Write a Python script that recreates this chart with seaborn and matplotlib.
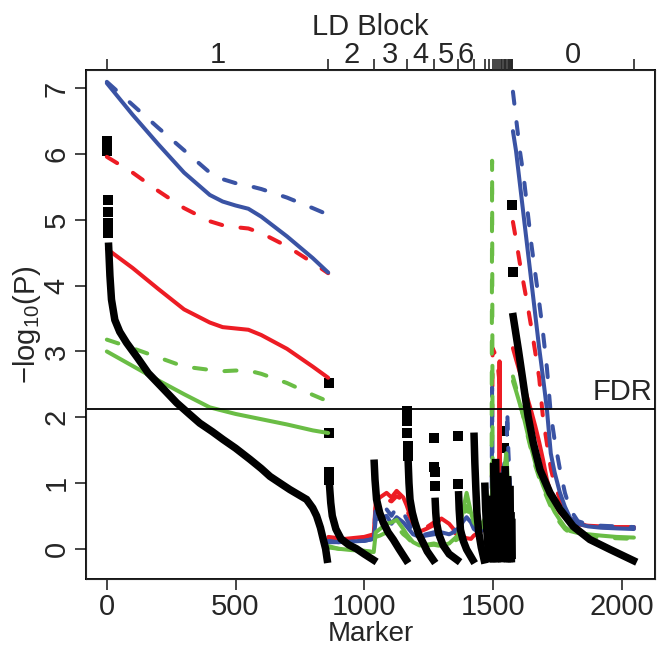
import pandas as pd
import seaborn as sns
import matplotlib.pyplot as plt
from matplotlib.transforms import blended_transform_factory

# ---- LD blocks (top axis) ----
block_edges = [0, 861, 1038, 1165, 1271, 1364, 1426, 1468, 1485, 1502, 1510, 1517,
               1524, 1530, 1536, 1542, 1547, 1552, 1557, 1562, 1566, 1570, 1573, 1576, 2048]
block_labels = ["1", "2", "3", "4", "5", "6", "0"]
block_label_pos = [430, 950, 1101, 1218, 1317, 1395, 1812]

fdr = 2.13

# ---- coloured curves: three segments (block 1, blocks 2..small, block 0) ----
M1 = [0, 100, 200, 300, 400, 450, 500, 550, 600, 700, 800, 860]
bs1 = [7.08, 6.60, 6.15, 5.72, 5.38, 5.28, 5.22, 5.17, 5.05, 4.75, 4.42, 4.20]
bd1 = [7.10, 6.75, 6.40, 6.06, 5.72, 5.62, 5.56, 5.52, 5.47, 5.34, 5.18, 5.08]
rd1 = [5.96, 5.72, 5.44, 5.18, 4.98, 4.92, 4.89, 4.87, 4.80, 4.60, 4.35, 4.19]
rs1 = [4.56, 4.27, 3.95, 3.64, 3.44, 3.37, 3.35, 3.33, 3.25, 3.04, 2.77, 2.60]
gd1 = [3.18, 3.05, 2.91, 2.77, 2.72, 2.70, 2.71, 2.71, 2.66, 2.52, 2.34, 2.24]
gs1 = [3.00, 2.78, 2.56, 2.35, 2.15, 2.10, 2.05, 2.01, 1.97, 1.89, 1.80, 1.76]

M2 = [861, 900, 950, 1000, 1037, 1045, 1061, 1087, 1106, 1126, 1152, 1165, 1190, 1215,
      1240, 1271, 1300, 1330, 1364, 1385, 1398, 1415, 1426, 1445, 1468, 1485, 1495, 1497,
      1499, 1510, 1520, 1524, 1526, 1528, 1535, 1545, 1552, 1556, 1560, 1566, 1574]
rs2 = [0.15, 0.14, 0.16, 0.18, 0.22, 0.72, 0.78, 0.85, 0.78, 0.88, 0.78, 0.66, 0.38, 0.26,
       0.30, 0.36, 0.46, 0.38, 0.22, 0.18, 0.16, 0.15, 0.20, 0.25, 0.30, 0.35, 0.40, 0.45,
       0.50, 0.50, 0.45, 0.50, 2.85, 0.60, 0.45, 0.50, 0.60, 0.55, 0.50, 0.45, 0.40]
rd2 = [0.18, 0.16, 0.15, 0.17, 0.20, 0.65, 0.70, 0.75, 0.72, 0.80, 0.74, 0.60, 0.35, 0.28,
       0.32, 0.40, 0.42, 0.33, 0.20, 0.20, 0.18, 0.20, 0.25, 0.28, 0.30, 0.30, 0.35, 1.50,
       3.05, 2.95, 2.75, 2.60, 2.30, 1.20, 0.60, 0.70, 0.90, 1.00, 0.90, 0.70, 0.50]
bd2 = [0.10, 0.10, 0.12, 0.12, 0.15, 0.65, 0.68, 0.60, 0.50, 0.63, 0.55, 0.45, 0.25, 0.20,
       0.22, 0.25, 0.28, 0.25, 0.30, 0.45, 0.50, 0.45, 0.35, 0.30, 0.35, 0.30, 0.40, 2.45,
       0.80, 0.60, 0.55, 0.60, 0.60, 0.65, 0.70, 0.90, 1.00, 2.10, 1.50, 1.00, 0.60]
bs2 = [0.12, 0.10, 0.11, 0.12, 0.15, 0.45, 0.46, 0.50, 0.38, 0.48, 0.40, 0.34, 0.22, 0.18,
       0.20, 0.22, 0.25, 0.22, 0.28, 0.42, 0.48, 0.40, 0.30, 0.25, 0.30, 0.35, 0.40, 0.45,
       0.50, 0.70, 0.90, 1.00, 1.05, 1.00, 1.10, 1.30, 1.10, 0.90, 0.80, 0.60, 0.45]
gs2 = [0.04, 0.00, -0.02, -0.03, -0.05, 0.25, 0.30, 0.38, 0.40, 0.44, 0.30, 0.22, 0.10, 0.05,
       0.06, 0.08, 0.05, 0.08, 0.20, 0.60, 0.85, 0.55, 0.40, 0.30, 0.45, 0.50, 0.70, 0.90,
       1.10, 1.30, 1.00, 0.80, 0.80, 0.80, 0.90, 1.20, 1.45, 1.20, 0.90, 0.60, 0.40]
gd2 = [0.02, 0.00, -0.03, -0.04, -0.05, 0.18, 0.20, 0.25, 0.30, 0.34, 0.22, 0.18, 0.08, 0.04,
       0.05, 0.06, 0.04, 0.06, 0.15, 0.45, 0.65, 0.45, 0.35, 0.30, 0.35, 0.40, 0.50, 5.90,
       0.90, 0.80, 0.70, 0.60, 0.60, 0.65, 0.70, 0.90, 1.00, 0.90, 0.80, 0.60, 0.40]

M3 = [1578, 1590, 1605, 1620, 1635, 1650, 1665, 1680, 1695, 1710, 1725, 1740, 1760, 1780,
      1800, 1830, 1870, 1920, 1980, 2048]
bd3 = [6.95, 6.55, 6.05, 5.65, 5.13, 4.62, 4.18, 3.75, 3.28, 2.75, 2.05, 1.65, 1.22, 0.85,
       0.60, 0.42, 0.37, 0.35, 0.34, 0.33]
bs3 = [6.35, 6.05, 5.55, 5.05, 4.55, 4.05, 3.55, 3.05, 2.60, 2.12, 1.45, 1.16, 0.86, 0.64,
       0.47, 0.38, 0.34, 0.32, 0.31, 0.30]
rd3 = [4.97, 4.70, 4.34, 4.02, 3.70, 3.35, 2.98, 2.60, 1.98, 1.60, 1.22, 0.98, 0.76, 0.60,
       0.50, 0.39, 0.35, 0.33, 0.32, 0.31]
rs3 = [3.05, 2.88, 2.68, 2.48, 2.28, 2.08, 1.86, 1.62, 1.35, 1.05, 0.85, 0.68, 0.55, 0.47,
       0.42, 0.37, 0.35, 0.34, 0.33, 0.33]
gs3 = [2.55, 2.40, 2.20, 2.00, 1.75, 1.52, 1.30, 1.13, 0.96, 0.82, 0.68, 0.56, 0.44, 0.33,
       0.27, 0.24, 0.22, 0.20, 0.18, 0.17]
gd3 = [2.62, 2.45, 2.22, 1.98, 1.72, 1.48, 1.26, 1.08, 0.92, 0.78, 0.64, 0.52, 0.40, 0.30,
       0.24, 0.20, 0.18, 0.17, 0.16, 0.15]

# ---- black markers: leading isolated points of each block ----
sq_m = [1, 2, 3, 4, 5, 6, 862, 863, 864, 865, 1166, 1167, 1168, 1169, 1170,
        1272, 1273, 1274, 1275, 1365, 1366, 1543, 1544, 1576, 1577]
sq_v = [6.20, 6.05, 5.30, 5.12, 4.95, 4.80, 2.52, 1.76, 1.16, 1.05, 2.10, 1.95, 1.76, 1.56, 1.41,
        1.68, 1.25, 1.16, 0.95, 1.72, 0.98, 1.79, 1.53, 5.22, 4.21]

# ---- black markers: dense sorted run of each block ----
blk_m = [7, 12, 18, 31, 50, 77, 120, 161, 215, 271, 320, 361, 410, 452, 500, 556, 600, 634,
         680, 711, 750, 776, 800, 815, 830, 841, 850, 856,
         866, 870, 876, 890, 910, 940, 970, 1000, 1036,
         1039, 1042, 1048, 1060, 1074, 1093, 1113, 1135, 1163,
         1171, 1174, 1178, 1187, 1197, 1212, 1229, 1245, 1268,
         1276, 1278, 1281, 1290, 1307, 1330, 1361,
         1367, 1369, 1374, 1385, 1398, 1422,
         1427, 1430, 1434, 1438, 1445, 1455, 1466,
         1469, 1472, 1476, 1484,
         1486, 1489, 1494, 1501,
         1503, 1505, 1507, 1509,
         1511, 1513, 1515, 1516,
         1518, 1520, 1523,
         1525, 1527, 1529,
         1531, 1535,
         1537, 1539, 1541,
         1545, 1546,
         1548, 1551,
         1553, 1556,
         1558, 1561,
         1563, 1565,
         1567, 1569,
         1571, 1572,
         1574, 1575,
         1579, 1599, 1618, 1637, 1657, 1683, 1722, 1761, 1812, 1877, 1955, 2046]
blk_v = [4.60, 4.15, 3.79, 3.48, 3.30, 3.13, 2.90, 2.67, 2.45, 2.22, 2.05, 1.91, 1.78, 1.66,
         1.53, 1.36, 1.22, 1.10, 0.98, 0.90, 0.81, 0.75, 0.62, 0.50, 0.32, 0.14, 0.00, -0.16,
         0.92, 0.70, 0.50, 0.30, 0.15, 0.06, 0.00, -0.08, -0.17,
         1.30, 1.05, 0.75, 0.55, 0.40, 0.25, 0.14, 0.00, -0.17,
         1.31, 1.00, 0.75, 0.55, 0.40, 0.22, 0.09, -0.04, -0.17,
         0.72, 0.55, 0.40, 0.22, 0.05, -0.08, -0.17,
         0.82, 0.60, 0.29, 0.12, -0.01, -0.17,
         1.71, 1.30, 0.90, 0.55, 0.25, 0.02, -0.17,
         0.95, 0.60, 0.30, -0.15,
         0.75, 0.45, 0.15, -0.15,
         1.25, 0.80, 0.35, -0.15,
         1.31, 0.80, 0.30, -0.15,
         0.95, 0.50, -0.12,
         1.10, 0.50, -0.10,
         0.70, -0.15,
         1.00, 0.40, -0.12,
         0.95, -0.10,
         1.20, -0.10,
         0.85, -0.15,
         1.05, -0.10,
         0.60, -0.15,
         0.90, -0.10,
         0.50, -0.15,
         0.40, -0.10,
         3.53, 3.03, 2.52, 2.01, 1.61, 1.20, 0.85, 0.60, 0.34, 0.14, -0.01, -0.18]
blk_id = ([1] * 28 + [2] * 9 + [3] * 9 + [4] * 9 + [5] * 7 + [6] * 6 + [7] * 7
          + [8] * 4 + [9] * 4 + [10] * 4 + [11] * 4 + [12] * 3 + [13] * 3 + [14] * 2
          + [15] * 3 + [16] * 2 + [17] * 2 + [18] * 2 + [19] * 2 + [20] * 2 + [21] * 2
          + [22] * 2 + [23] * 2 + [0] * 12)

red, blue, green = "#ED1C24", "#3A53A4", "#6ABD45"

sns.set_style("ticks")
plt.rcParams["font.family"] = ["Liberation Sans", "DejaVu Sans"]
plt.rcParams["mathtext.fontset"] = "custom"
plt.rcParams["mathtext.rm"] = "Liberation Sans"
plt.rcParams["mathtext.it"] = "Liberation Sans"
fs = 21

fig = plt.figure(figsize=(6.59, 6.48), dpi=100)
ax = fig.add_axes([86 / 659, 1 - 579 / 648, 569 / 659, 509 / 648])

seg_id = [1] * len(M1) + [2] * len(M2) + [3] * len(M3)
Mall = M1 + M2 + M3


def draw(vals, color, dashed):
    d = pd.DataFrame({"marker": Mall, "value": vals, "seg": seg_id})
    n0 = len(ax.lines)
    sns.lineplot(data=d, x="marker", y="value", units="seg", estimator=None,
                 sort=False, color=color, linewidth=2.9, ax=ax)
    for ln in ax.lines[n0:]:
        ln.set_solid_capstyle("round")
        if dashed:
            ln.set_dashes((3.0, 4.6))
            ln.set_dash_capstyle("round")


draw(rs1 + rs2 + rs3, red, False)
draw(rd1 + rd2 + rd3, red, True)
draw(bs1 + bs2 + bs3, blue, False)
draw(bd1 + bd2 + bd3, blue, True)
draw(gs1 + gs2 + gs3, green, False)
draw(gd1 + gd2 + gd3, green, True)

# black -log10(P) of single markers
dk = pd.DataFrame({"marker": blk_m, "value": blk_v, "blk": blk_id})
n0 = len(ax.lines)
sns.lineplot(data=dk, x="marker", y="value", units="blk", estimator=None, sort=False,
             color="black", linewidth=5.4, ax=ax)
for ln in ax.lines[n0:]:
    ln.set_solid_capstyle("projecting")
    ln.set_solid_joinstyle("miter")
sns.scatterplot(x=sq_m, y=sq_v, marker="s", s=48, color="black", linewidth=0, ax=ax)

# FDR threshold
ax.axhline(fdr, color="black", linewidth=1.3)
ax.text(0.995, fdr + 0.04, "FDR", fontsize=fs, ha="right", va="bottom",
        transform=blended_transform_factory(ax.transAxes, ax.transData))

ax.set_xlim(-81, 2130)
ax.set_ylim(-0.46, 7.28)
ax.set_xticks([0, 500, 1000, 1500, 2000])
ax.set_yticks(range(8))
ax.tick_params(labelsize=fs, length=8, width=1.2, pad=2, direction="out")
ax.tick_params(axis="y", labelrotation=90, pad=3)
for t in ax.get_yticklabels():
    t.set_va("center")
ax.set_xlabel("Marker", fontsize=20, labelpad=0)
ax.set_ylabel("\u2212log$_{\\mathregular{10}}$(P)", fontsize=fs, labelpad=0)
for s in ax.spines.values():
    s.set_linewidth(1.3)
    s.set_color("black")

# top axis: LD block boundaries and names
ax2 = ax.twiny()
ax2.set_xlim(ax.get_xlim())
ax2.set_xticks(block_edges)
ax2.set_xticklabels([])
ax2.set_xticks(block_label_pos, minor=True)
ax2.set_xticklabels(block_labels, minor=True)
ax2.tick_params(which="major", length=8, width=1.2, direction="out")
ax2.tick_params(which="minor", length=0, labelsize=fs, pad=1)
ax2.set_xlabel("LD Block", fontsize=fs, labelpad=4)

plt.savefig("out.png", dpi=100)
